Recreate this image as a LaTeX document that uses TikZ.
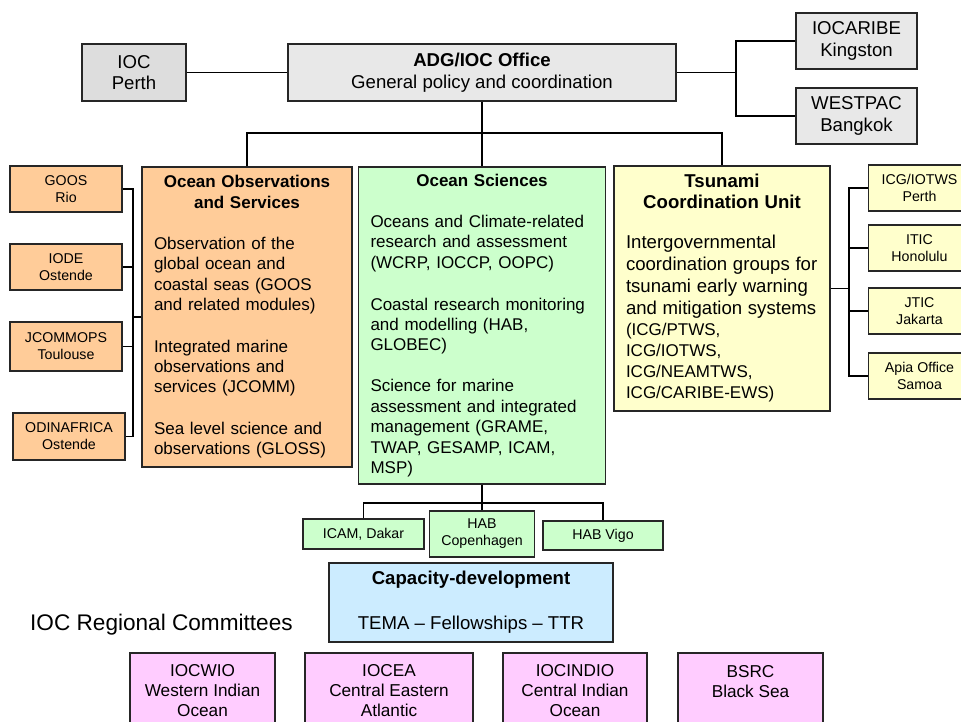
\documentclass[tikz,border=0pt]{standalone}
\usepackage{fontspec}
\setmainfont{Liberation Sans}
\usepackage{tikz}
\setlength{\parindent}{0pt}
\definecolor{perthgray}{HTML}{DDDDDD}
\definecolor{officegray}{HTML}{E8E8E8}
\definecolor{obsorange}{HTML}{FFCC99}
\definecolor{scigreen}{HTML}{CCFFCC}
\definecolor{tsuyellow}{HTML}{FFFFCC}
\definecolor{capblue}{HTML}{CCECFF}
\definecolor{regpink}{HTML}{FFCCFF}
\newcommand{\fbig}{\fontsize{18.6}{21.7}\selectfont}
\newcommand{\fmid}{\fontsize{17}{20.4}\selectfont}
\newcommand{\fsmall}{\fontsize{14.2}{17}\selectfont}

\begin{document}
\begin{tikzpicture}[x=1pt,y=-1pt,
	box/.style={draw=black!85,line width=1.1pt,inner sep=0pt,align=center},
	unit/.style={box,font=\fsmall,minimum height=46},
	textbox/.style={draw=black!85,line width=1.1pt,inner xsep=12pt,inner ysep=2pt,font=\fmid},
	regbox/.style={box,fill=regpink,font=\fontsize{17.2}{20}\selectfont,minimum height=76},
	link/.style={line width=1.1pt}]
	\clip (0,0) rectangle (961,722);
	\fill[white] (0,0) rectangle (961,722);

	\node[box,fill=perthgray,font=\fbig,minimum width=104,minimum height=57] (perth) at (134,72.5) {IOC\\Perth};
	\node[box,fill=officegray,font=\fbig,minimum width=388,minimum height=57] (adg) at (482,72.5) {\textbf{ADG/IOC Office}\\General policy and coordination};
	\node[box,fill=officegray,font=\fbig,minimum width=121,minimum height=56] (caribe) at (856.5,41) {IOCARIBE\\Kingston};
	\node[box,fill=officegray,font=\fbig,minimum width=121,minimum height=56] (westpac) at (856.5,116) {WESTPAC\\Bangkok};

	\node[textbox,fill=obsorange,minimum width=210,minimum height=300,text width=186] (obs) at (247,317) {%
		{\centering\bfseries Ocean Observations\\and Services\par}\vspace{20.6pt}
		Observation of the\\global ocean and\\coastal seas (GOOS\\and related modules)\par\vspace{21.2pt}
		Integrated marine\\observations and\\services (JCOMM)\par\vspace{21.2pt}
		Sea level science and\\observations (GLOSS)};
	\node[textbox,fill=scigreen,minimum width=247,minimum height=317,text width=223] (sci) at (482,325.5) {%
		{\centering\bfseries Ocean Sciences\par}\vspace{20.6pt}
		Oceans and Climate-related\\research and assessment\\(WCRP, IOCCP, OOPC)\par\vspace{21.6pt}
		Coastal research monitoring\\and modelling (HAB,\\GLOBEC)\par\vspace{20.6pt}
		Science for marine\\assessment and integrated\\management (GRAME,\\TWAP, GESAMP, ICAM,\\MSP)};
	\node[textbox,fill=tsuyellow,minimum width=216,minimum height=245,text width=192] (tsu) at (722,288.5) {%
		{\centering\fontsize{18.6}{21}\selectfont\bfseries Tsunami\\Coordination Unit\par}\vspace{18pt}
		{\fontsize{18.6}{22}\selectfont Intergovernmental\\coordination groups for\\tsunami early warning\\and mitigation systems\par}
		{\fontsize{17}{21}\selectfont (ICG/PTWS,\\ICG/IOTWS,\\ICG/NEAMTWS,\\ICG/CARIBE-EWS)\par}};

	\node[unit,fill=obsorange,minimum width=112] (goos) at (66,189) {GOOS\\Rio};
	\node[unit,fill=obsorange,minimum width=112] (iode) at (66,267) {IODE\\Ostende};
	\node[unit,fill=obsorange,minimum width=112,minimum height=49] (jcomm) at (66,346.5) {JCOMMOPS\\Toulouse};
	\node[unit,fill=obsorange,minimum width=112,minimum height=47] (odin) at (69,436.5) {ODINAFRICA\\Ostende};

	\node[unit,fill=tsuyellow,minimum width=102] (iotws) at (919.5,188) {ICG/IOTWS\\Perth};
	\node[unit,fill=tsuyellow,minimum width=102] (itic) at (919.5,248) {ITIC\\Honolulu};
	\node[unit,fill=tsuyellow,minimum width=102] (jtic) at (919.5,311) {JTIC\\Jakarta};
	\node[unit,fill=tsuyellow,minimum width=102] (apia) at (919.5,376) {Apia Office\\Samoa};

	\node[unit,fill=scigreen,minimum width=121,minimum height=30] (icam) at (363.5,534) {ICAM, Dakar};
	\node[unit,fill=scigreen,minimum width=105] (habc) at (482,534) {HAB\\Copenhagen};
	\node[unit,fill=scigreen,minimum width=120,minimum height=29] (habv) at (603,535.5) {HAB Vigo};

	\node[box,fill=capblue,font=\fbig,minimum width=284,minimum height=79] (cap) at (471,602.5) {\textbf{Capacity-development}\\[23pt]TEMA – Fellowships – TTR};

	\node[anchor=base west,inner sep=0pt,font=\fontsize{22.6}{27}\selectfont] (reglabel) at (30,630) {IOC Regional Committees};
	\node[regbox,minimum width=145] (iocwio) at (202.5,691) {IOCWIO\\Western Indian\\Ocean};
	\node[regbox,minimum width=168] (iocea) at (389,691) {IOCEA\\Central Eastern\\Atlantic};
	\node[regbox,minimum width=144] (iocindio) at (575,691) {IOCINDIO\\Central Indian\\Ocean};
	\node[regbox,minimum width=145] (bsrc) at (750.5,691) {BSRC\\Black Sea\\{}};

	\coordinate (rfork) at (736,72.5);
	\coordinate (topbus) at (482,133);
	\coordinate (lbus) at (133,317);
	\coordinate (rbus) at (849,288.5);
	\coordinate (gbus) at (482,503);

	\draw[link] (perth.east) -- (adg.west);
	\draw[link] (adg.east) -- (rfork);
	\draw[link] (caribe.west) -| (rfork) |- (westpac.west);
	\draw[link] (adg.south) -- (sci.north);
	\draw[link] (obs.north) |- (topbus) -| (tsu.north);
	\draw[link] (obs.west) -- (lbus);
	\foreach \n in {goos,iode,jcomm,odin} {
		\draw[link] (\n.east) -| (lbus);}
	\draw[link] (tsu.east) -- (rbus);
	\foreach \n in {iotws,itic,jtic,apia} {
		\draw[link] (\n.west) -| (rbus);}
	\draw[link] (sci.south) -- (habc.north);
	\draw[link] (icam.north) |- (gbus) -| (habv.north);
\end{tikzpicture}
\end{document}
